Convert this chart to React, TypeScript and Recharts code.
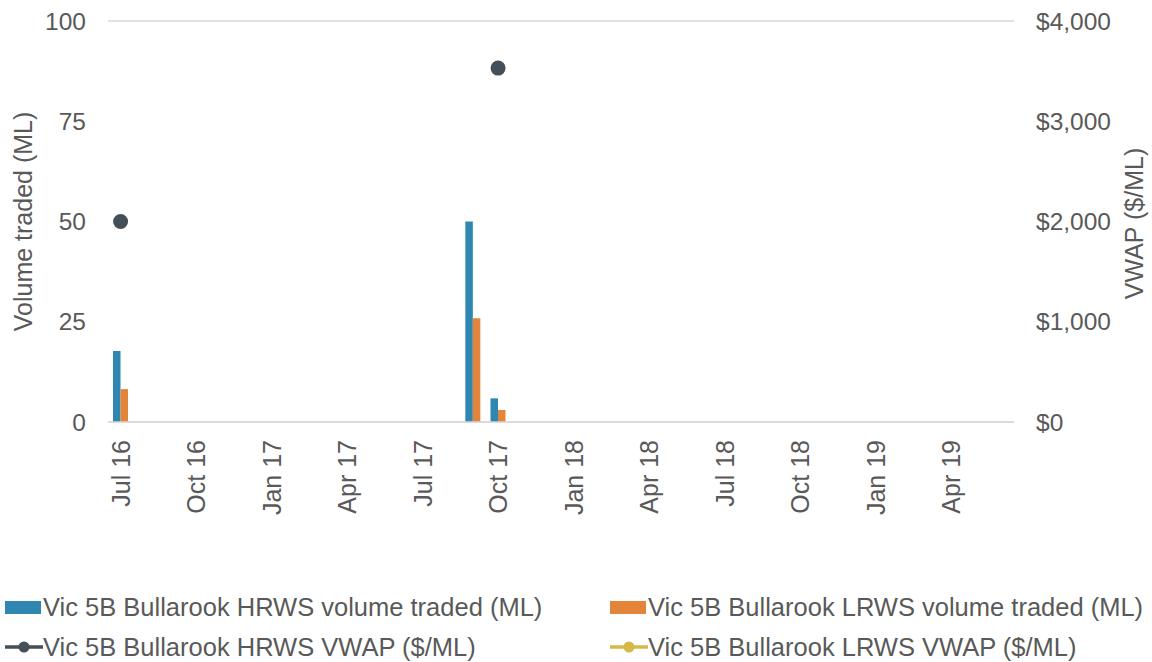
import React from "react";
import { ComposedChart, Bar, Line, XAxis, YAxis, CartesianGrid, Legend } from "recharts";

const months = [
  "Jul 16", "Aug 16", "Sep 16", "Oct 16", "Nov 16", "Dec 16",
  "Jan 17", "Feb 17", "Mar 17", "Apr 17", "May 17", "Jun 17",
  "Jul 17", "Aug 17", "Sep 17", "Oct 17", "Nov 17", "Dec 17",
  "Jan 18", "Feb 18", "Mar 18", "Apr 18", "May 18", "Jun 18",
  "Jul 18", "Aug 18", "Sep 18", "Oct 18", "Nov 18", "Dec 18",
  "Jan 19", "Feb 19", "Mar 19", "Apr 19", "May 19", "Jun 19",
];

// only months with trades carry values
const hrwsVolume: Record<string, number> = { "Jul 16": 17.7, "Sep 17": 50, "Oct 17": 5.9 };
const lrwsVolume: Record<string, number> = { "Jul 16": 8.2, "Sep 17": 25.9, "Oct 17": 3 };
const hrwsVwap: Record<string, number> = { "Jul 16": 2000, "Oct 17": 3530 };
const lrwsVwap: Record<string, number> = {};

const leftTicks = [0, 25, 50, 75, 100];
const rightTicks = [0, 1000, 2000, 3000, 4000];

const data = months.map((m) => ({
  month: m,
  hrwsVol: hrwsVolume[m] ?? null,
  lrwsVol: lrwsVolume[m] ?? null,
  hrwsVwap: hrwsVwap[m] ?? null,
  lrwsVwap: lrwsVwap[m] ?? null,
}));

const TEXT = "#595959";
const FONT = "'Liberation Sans', Arial, sans-serif";
const HRWS_BAR = "#2f86b0";
const LRWS_BAR = "#e2853a";
const HRWS_LINE = "#454f57";
const LRWS_LINE = "#d6b847";

const legendItems = [
  { label: "Vic 5B Bullarook HRWS volume traded (ML)", color: HRWS_BAR, kind: "bar" },
  { label: "Vic 5B Bullarook LRWS volume traded (ML)", color: LRWS_BAR, kind: "bar" },
  { label: "Vic 5B Bullarook HRWS VWAP ($/ML)", color: HRWS_LINE, kind: "line" },
  { label: "Vic 5B Bullarook LRWS VWAP ($/ML)", color: LRWS_LINE, kind: "line" },
];

function MonthTick({ x, y, payload }: any) {
  return (
    <text
      x={0}
      y={0}
      transform={`translate(${x},${y + 10}) rotate(-90)`}
      textAnchor="end"
      dominantBaseline="central"
      fill={TEXT}
      fontSize={25}
      fontFamily={FONT}
    >
      {payload.value}
    </text>
  );
}

function LegendContent() {
  return (
    <div style={{ position: "relative", width: 1152, height: 80, fontFamily: FONT, fontSize: 25.5, color: TEXT }}>
      {legendItems.map((it, i) => {
        const left = i % 2 === 0 ? 5 : 610;
        const top = i < 2 ? 10 : 50;
        return (
          <div key={it.label} style={{ position: "absolute", left, top, display: "flex", alignItems: "center", height: 30, whiteSpace: "nowrap" }}>
            {it.kind === "bar" ? (
              <span style={{ display: "inline-block", width: 36, height: 13, background: it.color, marginRight: 2 }} />
            ) : (
              <svg width={38} height={14}>
                <line x1={0} y1={7} x2={38} y2={7} stroke={it.color} strokeWidth={3.5} />
                <circle cx={19} cy={7} r={5.5} fill={it.color} />
              </svg>
            )}
            <span>{it.label}</span>
          </div>
        );
      })}
    </div>
  );
}

export default function App() {
  return (
    <div style={{ position: "absolute", left: 0, top: 0, width: 1152, height: 662, background: "#fff" }}>
      <ComposedChart
        width={1152}
        height={662}
        data={data}
        margin={{ top: 21, right: 0, left: 0, bottom: 0 }}
        barGap={0}
        barSize={7.5}
      >
        <CartesianGrid vertical={false} stroke="#d9d9d9" strokeWidth={1.3} />
        <XAxis
          dataKey="month"
          interval={2}
          tick={<MonthTick />}
          tickLine={false}
          axisLine={{ stroke: "#d9d9d9", strokeWidth: 1.3 }}
          height={160}
        />
        <YAxis
          yAxisId="left"
          domain={[0, 100]}
          ticks={leftTicks}
          width={108}
          axisLine={false}
          tickLine={false}
          tickSize={0}
          tickMargin={22}
          tick={{ fill: TEXT, fontSize: 24.5, fontFamily: FONT }}
          label={(p: any) => (
            <text
              transform={`translate(23,${p.viewBox.y + p.viewBox.height / 2}) rotate(-90)`}
              textAnchor="middle"
              dominantBaseline="central"
              fill={TEXT}
              fontSize={25}
              fontFamily={FONT}
            >
              Volume traded (ML)
            </text>
          )}
        />
        <YAxis
          yAxisId="right"
          orientation="right"
          domain={[0, 4000]}
          ticks={rightTicks}
          width={138}
          axisLine={false}
          tickLine={false}
          tickSize={0}
          tickMargin={22}
          tickFormatter={(v: number) => `$${v.toLocaleString("en-US")}`}
          tick={{ fill: TEXT, fontSize: 24.5, fontFamily: FONT }}
          label={(p: any) => (
            <text
              transform={`translate(1134,${p.viewBox.y + p.viewBox.height / 2 + 2}) rotate(-90)`}
              textAnchor="middle"
              dominantBaseline="central"
              fill={TEXT}
              fontSize={25}
              fontFamily={FONT}
            >
              VWAP ($/ML)
            </text>
          )}
        />
        <Legend verticalAlign="bottom" height={80} content={<LegendContent />} />
        <Bar yAxisId="left" dataKey="hrwsVol" fill={HRWS_BAR} isAnimationActive={false} />
        <Bar yAxisId="left" dataKey="lrwsVol" fill={LRWS_BAR} isAnimationActive={false} />
        <Line
          yAxisId="right"
          dataKey="hrwsVwap"
          stroke={HRWS_LINE}
          strokeWidth={3}
          dot={{ r: 6, fill: HRWS_LINE, stroke: HRWS_LINE }}
          isAnimationActive={false}
        />
        <Line
          yAxisId="right"
          dataKey="lrwsVwap"
          stroke={LRWS_LINE}
          strokeWidth={3}
          dot={{ r: 6, fill: LRWS_LINE, stroke: LRWS_LINE }}
          isAnimationActive={false}
        />
      </ComposedChart>
    </div>
  );
}
